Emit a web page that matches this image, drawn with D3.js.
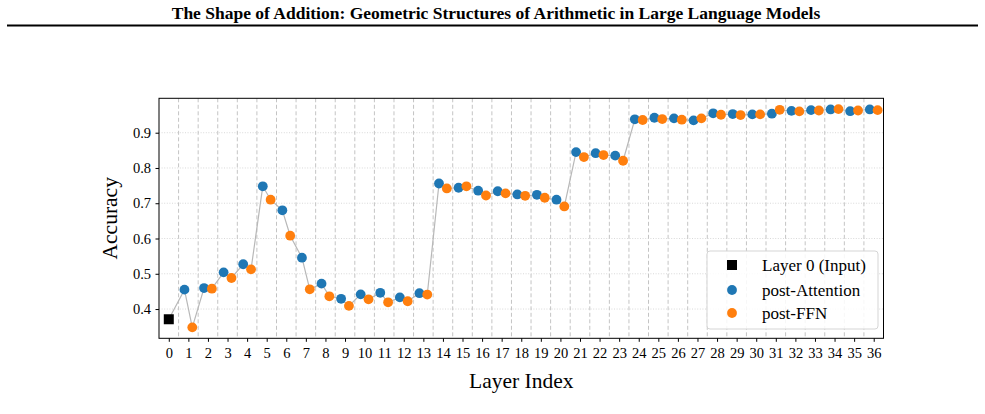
<!DOCTYPE html>
<html>
<head>
<meta charset="utf-8">
<script src="https://cdn.jsdelivr.net/npm/d3@7"></script>
<style>
  html, body { margin: 0; padding: 0; background: #fff; }
  svg { display: block; }
  text { font-family: "Liberation Serif", "Times New Roman", serif; }
</style>
</head>
<body>
<svg id="chart" width="985" height="414"></svg>
<script>
// ---- Data ----
const layers = d3.range(1, 37);
const inputAccuracy = 0.371;
const attentionAccuracy = [0.455, 0.4595, 0.504, 0.527, 0.748, 0.680, 0.5455, 0.472, 0.429, 0.4416,
  0.446, 0.433, 0.445, 0.756, 0.744, 0.7355, 0.734, 0.725, 0.724, 0.710,
  0.845, 0.842, 0.835, 0.938, 0.9424, 0.9407, 0.935, 0.955, 0.953, 0.952,
  0.954, 0.962, 0.964, 0.966, 0.961, 0.966];
const ffnAccuracy = [0.348, 0.4576, 0.488, 0.5125, 0.710, 0.608, 0.456, 0.436, 0.409, 0.4275,
  0.419, 0.422, 0.441, 0.742, 0.748, 0.722, 0.728, 0.721, 0.7156, 0.691,
  0.831, 0.8366, 0.8205, 0.936, 0.9387, 0.937, 0.9407, 0.951, 0.950, 0.952,
  0.965, 0.9605, 0.963, 0.967, 0.963, 0.964];
const xTicks = d3.range(0, 37);
const yTicks = [0.4, 0.5, 0.6, 0.7, 0.8, 0.9];
const legendLabels = ["Layer 0 (Input)", "post-Attention", "post-FFN"];
const title = "The Shape of Addition: Geometric Structures of Arithmetic in Large Language Models";

const colAtt = "#1f77b4", colFfn = "#ff7f0e";

const svg = d3.select("#chart");

// Title and rule
svg.append("text").attr("x", 496).attr("y", 19).attr("text-anchor", "middle")
  .attr("font-size", 17.5).attr("font-weight", "bold").text(title);
svg.append("line").attr("x1", 7).attr("x2", 978).attr("y1", 25.5).attr("y2", 25.5)
  .attr("stroke", "#000").attr("stroke-width", 2);

const L = 159, R = 883.5, T = 98.3, B = 338.3;
const x = d3.scaleLinear().domain([-0.5, 36.5]).range([L, R]);
const y = d3.scaleLinear().domain([0.317, 0.9976]).range([B, T]);

const g = svg.append("g");

// horizontal dotted grid
g.selectAll("line.hgrid").data(yTicks).enter().append("line")
  .attr("x1", L).attr("x2", R).attr("y1", d => y(d)).attr("y2", d => y(d))
  .attr("stroke", "#cfcfcf").attr("stroke-width", 0.8).attr("stroke-dasharray", "1,1.6");

// vertical dashed separators at half-integers
g.selectAll("line.vsep").data(d3.range(0, 36).map(d => d + 0.5)).enter().append("line")
  .attr("x1", d => x(d)).attr("x2", d => x(d)).attr("y1", T).attr("y2", B)
  .attr("stroke", "#c4c4c4").attr("stroke-width", 1).attr("stroke-dasharray", "4,2.5");

// sequence line
const seq = [{x: 0, v: inputAccuracy}];
layers.forEach((l, i) => {
  seq.push({x: l - 0.2, v: attentionAccuracy[i]});
  seq.push({x: l + 0.2, v: ffnAccuracy[i]});
});
g.append("path").datum(seq)
  .attr("d", d3.line().x(d => x(d.x)).y(d => y(d.v)))
  .attr("fill", "none").attr("stroke", "#b8b8b8").attr("stroke-width", 1.2);

// points
const r = 4.9;
g.selectAll("circle.att").data(layers).enter().append("circle")
  .attr("cx", d => x(d - 0.2)).attr("cy", (d, i) => y(attentionAccuracy[i]))
  .attr("r", r).attr("fill", colAtt);
g.selectAll("circle.ffn").data(layers).enter().append("circle")
  .attr("cx", d => x(d + 0.2)).attr("cy", (d, i) => y(ffnAccuracy[i]))
  .attr("r", r).attr("fill", colFfn);
g.append("rect").attr("x", x(0) - 5).attr("y", y(inputAccuracy) - 5)
  .attr("width", 10).attr("height", 10).attr("fill", "#000");

// axes frame
svg.append("rect").attr("x", L).attr("y", T).attr("width", R - L).attr("height", B - T)
  .attr("fill", "none").attr("stroke", "#000").attr("stroke-width", 1);

const xAxis = svg.append("g").attr("transform", `translate(0,${B})`)
  .call(d3.axisBottom(x).tickValues(xTicks).tickSize(3.5).tickSizeOuter(0).tickFormat(d3.format("d")));
xAxis.select(".domain").remove();
xAxis.attr("font-family", null).attr("font-size", null);
xAxis.selectAll("text").attr("font-size", 14.5).attr("dy", "0.9em")
  .style("font-family", "'Liberation Serif', serif").attr("fill", "#000");
xAxis.selectAll("line").attr("stroke", "#000");

const yAxis = svg.append("g").attr("transform", `translate(${L},0)`)
  .call(d3.axisLeft(y).tickValues(yTicks).tickSize(3.5).tickSizeOuter(0).tickFormat(d3.format(".1f")));
yAxis.select(".domain").remove();
yAxis.attr("font-family", null).attr("font-size", null);
yAxis.selectAll("text").attr("font-size", 14.5).attr("dx", "-0.1em")
  .style("font-family", "'Liberation Serif', serif").attr("fill", "#000");
yAxis.selectAll("line").attr("stroke", "#000");

// axis labels
svg.append("text").attr("x", (L + R) / 2).attr("y", 388).attr("text-anchor", "middle")
  .attr("font-size", 21.5).text("Layer Index");
svg.append("text").attr("transform", `translate(117,${(T + B) / 2}) rotate(-90)`)
  .attr("text-anchor", "middle").attr("font-size", 21.5).text("Accuracy");

// legend
const lg = svg.append("g");
lg.append("rect").attr("x", 707).attr("y", 251).attr("width", 171).attr("height", 78)
  .attr("rx", 3).attr("fill", "#fff").attr("fill-opacity", 0.85)
  .attr("stroke", "#d5d5d5").attr("stroke-width", 1);
const ly = [265, 290, 313];
lg.append("rect").attr("x", 727).attr("y", ly[0] - 5).attr("width", 10).attr("height", 10).attr("fill", "#000");
lg.append("circle").attr("cx", 732).attr("cy", ly[1]).attr("r", r).attr("fill", colAtt);
lg.append("circle").attr("cx", 732).attr("cy", ly[2]).attr("r", r).attr("fill", colFfn);
lg.selectAll("text.leg").data(legendLabels).enter().append("text")
  .attr("x", 762).attr("y", (d, i) => ly[i]).attr("dy", "0.35em")
  .attr("font-size", 17).text(d => d);
</script>
</body>
</html>
